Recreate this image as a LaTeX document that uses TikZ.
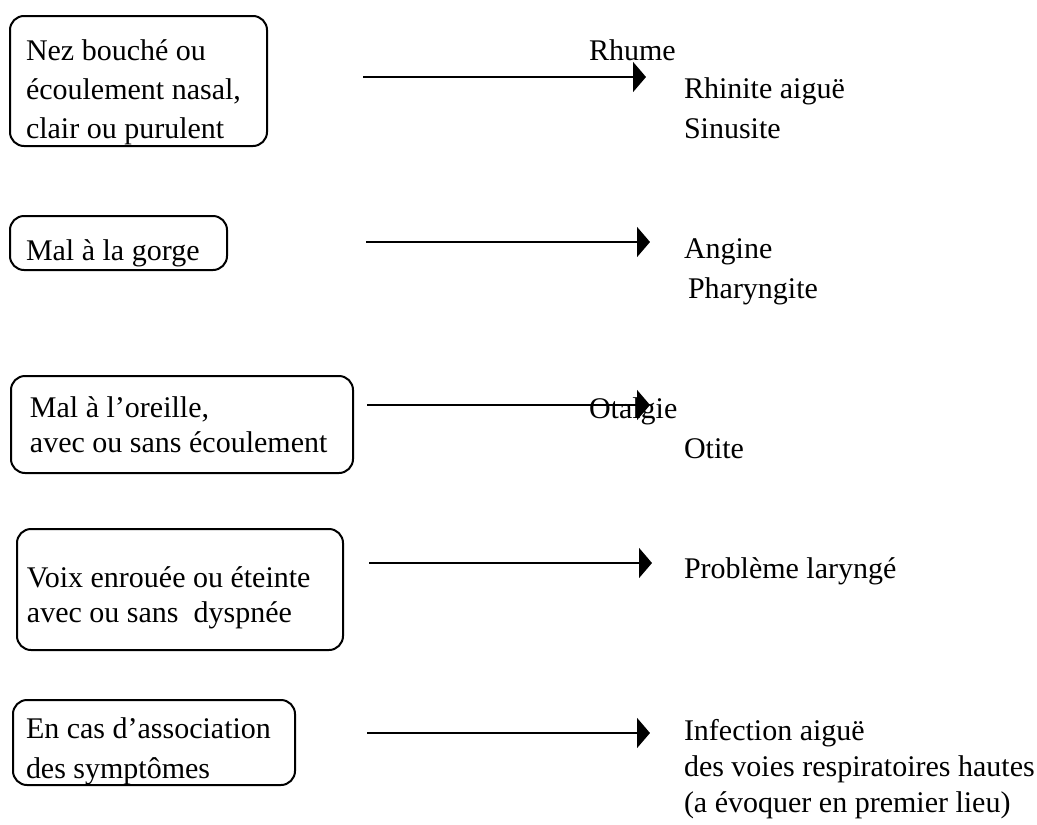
\documentclass[tikz,border=0pt]{standalone}
\usepackage{fontspec}
\setmainfont{Liberation Serif}
\usetikzlibrary{arrows.meta,positioning}

\begin{document}
\begin{tikzpicture}[x=1pt,y=-1pt,>={Triangle[length=13pt,width=30pt]},
    line width=2pt,font=\fontsize{30}{38}\selectfont,
    symptom/.style={draw,rounded corners=14pt,anchor=north west,inner sep=0pt},
    txt/.style={anchor=base west,inner sep=0pt,align=left}]
    \useasboundingbox (0,0) rectangle (1037,825);
    %
    % symptom boxes
    \node[symptom,minimum width=257pt,minimum height=130pt] (b1) at (9,15) {};
    \node[symptom,minimum width=217pt,minimum height=54pt] (b2) at (9,215) {};
    \node[symptom,minimum width=342pt,minimum height=97pt] (b3) at (10,375) {};
    \node[symptom,minimum width=326pt,minimum height=121pt] (b4) at (16,528) {};
    \node[symptom,minimum width=282pt,minimum height=85pt] (b5) at (12,699) {};
    %
    % texts sit on the baseline of their last line
    \node[txt,font=\fontsize{30}{39}\selectfont] (s1) at (25,138) {Nez bouché ou\\écoulement nasal,\\clair ou purulent};
    \node[txt] (s2) at (25,260) {Mal à la gorge};
    \node[txt,font=\fontsize{30}{35}\selectfont] (s3) at (29,452) {Mal à l’oreille,\\ avec ou sans écoulement};
    \node[txt,font=\fontsize{30}{35}\selectfont] (s4) at (26,622) {Voix enrouée ou éteinte\\avec ou sans\ \ dyspnée};
    \node[txt,font=\fontsize{30}{40}\selectfont] (s5) at (25,778) {En cas d’association\\des symptômes};
    %
    % arrows
    \coordinate (a1s) at (363,77);  \coordinate (a1e) at (646,77);
    \coordinate (a2s) at (366,242); \coordinate (a2e) at (650,242);
    \coordinate (a3s) at (367,405); \coordinate (a3e) at (650,405);
    \coordinate (a4s) at (369,563); \coordinate (a4e) at (652,563);
    \coordinate (a5s) at (367,733); \coordinate (a5e) at (650,733);
    \foreach \i in {1,...,5}
      \draw[->] (a\i s) -- (a\i e);
    %
    \node[txt] (rh) at (588,60) {Rhume};
    \node[txt] (ot) at (588,418) {Otalgie};
    %
    % diagnoses
    \node[txt,font=\fontsize{30}{40}\selectfont] (d1) at (683,138) {Rhinite aiguë\\Sinusite};
    \node[txt,font=\fontsize{30}{40}\selectfont] (d2) at (683,298) {Angine\\\hspace{4pt}Pharyngite};
    \node[txt] (d3) at (683,458) {Otite};
    \node[txt] (d4) at (683,578) {Problème laryngé};
    \node[txt,font=\fontsize{30}{36}\selectfont] (d5) at (683,812) {Infection aiguë\\des voies respiratoires hautes\\(a évoquer en premier lieu)};
\end{tikzpicture}
\end{document}
